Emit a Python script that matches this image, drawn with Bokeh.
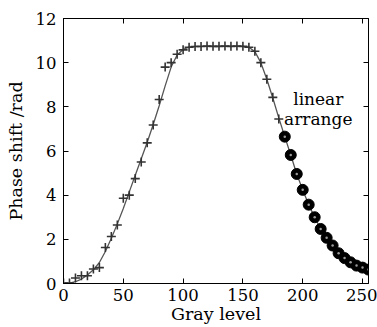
from bokeh.plotting import figure
from bokeh.models import LinearAxis, Range1d, FixedTicker
from bokeh.core.properties import value
from bokeh.embed import file_html
from bokeh.resources import INLINE

# measured points (+ markers)
plus_x = [0, 5, 10, 15, 20, 25, 30, 35, 40, 45, 50, 55, 60, 65, 70, 75, 80, 85, 90,
          95, 100, 105, 110, 115, 120, 125, 130, 135, 140, 145, 150, 155, 160, 165,
          170, 175, 180]
plus_y = [0.02, 0.02, 0.25, 0.35, 0.35, 0.66, 0.72, 1.63, 2.13, 2.65, 3.86, 4.0, 4.75,
          5.5, 6.37, 7.18, 8.33, 9.8, 10.0, 10.38, 10.58, 10.7, 10.73, 10.73, 10.75,
          10.74, 10.74, 10.75, 10.74, 10.75, 10.74, 10.7, 10.52, 10.0, 9.25, 8.43, 7.45]

# linear arrange points (circles)
circ_x = [185, 190, 195, 200, 205, 210, 215, 220, 225, 230, 235, 240, 245, 250, 255]
circ_y = [6.65, 5.82, 4.96, 4.24, 3.57, 3.0, 2.47, 2.07, 1.72, 1.37, 1.15, 0.96, 0.81,
          0.72, 0.63]

# fitted curve
curve_x = [0, 5, 10, 15, 20, 25, 30, 35, 40, 45, 50, 55, 60, 65, 70, 75, 80, 85, 90,
           95, 100, 105, 110, 120, 130, 140, 150, 155, 160, 165, 170, 175, 180, 185,
           190, 195, 200, 205, 210, 215, 220, 225, 230, 235, 240, 245, 250, 255]
curve_y = [0.0, 0.02, 0.08, 0.2, 0.38, 0.62, 0.95, 1.45, 2.05, 2.7, 3.4, 4.15, 4.9,
           5.65, 6.4, 7.2, 8.05, 8.95, 9.8, 10.35, 10.6, 10.7, 10.74, 10.74, 10.74,
           10.74, 10.74, 10.7, 10.5, 10.0, 9.25, 8.4, 7.5, 6.65, 5.82, 4.96, 4.24, 3.57,
           3.0, 2.47, 2.07, 1.72, 1.37, 1.15, 0.96, 0.81, 0.72, 0.63]

x_ticks = [0, 50, 100, 150, 200, 250]
y_ticks = [0, 2, 4, 6, 8, 10, 12]

note_x = [213, 213]
note_y = [8.37, 7.47]
note_text = ["linear", "arrange"]

FONT = "DejaVu Serif"

p = figure(width=377, height=327, output_backend="svg", toolbar_location=None,
           x_range=Range1d(0, 255), y_range=Range1d(0, 12),
           min_border_left=63, min_border_right=9, min_border_top=18,
           min_border_bottom=44)
p.background_fill_color = "white"
p.border_fill_color = "white"
p.outline_line_color = "black"
p.outline_line_width = 1
p.xgrid.visible = False
p.ygrid.visible = False

for ax, ticks in ((p.xaxis[0], x_ticks), (p.yaxis[0], y_ticks)):
    ax.ticker = FixedTicker(ticks=ticks)
    ax.major_tick_in = 5
    ax.major_tick_out = 0
    ax.minor_tick_in = 0
    ax.minor_tick_out = 0
    ax.axis_line_color = "black"
    ax.major_tick_line_color = "black"
    ax.major_label_text_font = FONT
    ax.major_label_text_font_size = "16.5px"
    ax.major_label_text_color = "black"
    ax.axis_label_text_font = FONT
    ax.axis_label_text_font_size = "17.5px"
    ax.axis_label_text_font_style = "normal"
    ax.axis_label_text_color = "black"

p.xaxis[0].major_label_standoff = 5
p.xaxis[0].axis_label = "Gray level"
p.xaxis[0].axis_label_standoff = 0
p.yaxis[0].major_label_standoff = 7
p.yaxis[0].axis_label = "Phase shift /rad"
p.yaxis[0].axis_label_standoff = 7

top = LinearAxis(ticker=FixedTicker(ticks=x_ticks),
                 major_label_overrides={t: "" for t in x_ticks})
right = LinearAxis(ticker=FixedTicker(ticks=y_ticks[1:-1]),
                   major_label_overrides={t: "" for t in y_ticks[1:-1]})
for ax in (top, right):
    ax.major_tick_in = 5
    ax.major_tick_out = 0
    ax.minor_tick_in = 0
    ax.minor_tick_out = 0
    ax.major_label_standoff = 0
    ax.axis_line_color = "black"
p.add_layout(top, "above")
p.add_layout(right, "right")

p.line(curve_x, curve_y, line_color="#555555", line_width=1.3)
p.scatter(plus_x, plus_y, marker="cross", size=9, line_color="#333333", line_width=1.6)
p.scatter(circ_x, circ_y, marker="circle", size=11, fill_color="black", line_color="black")
p.scatter(circ_x, circ_y, marker="circle", size=2.5, fill_color="#9a9a9a", line_color=None)

p.text(note_x, note_y, text=note_text, text_font=value(FONT), text_font_size="17px",
       text_align="center", text_baseline="middle", text_color="black")

open("out.html", "w").write(file_html(p, INLINE))
